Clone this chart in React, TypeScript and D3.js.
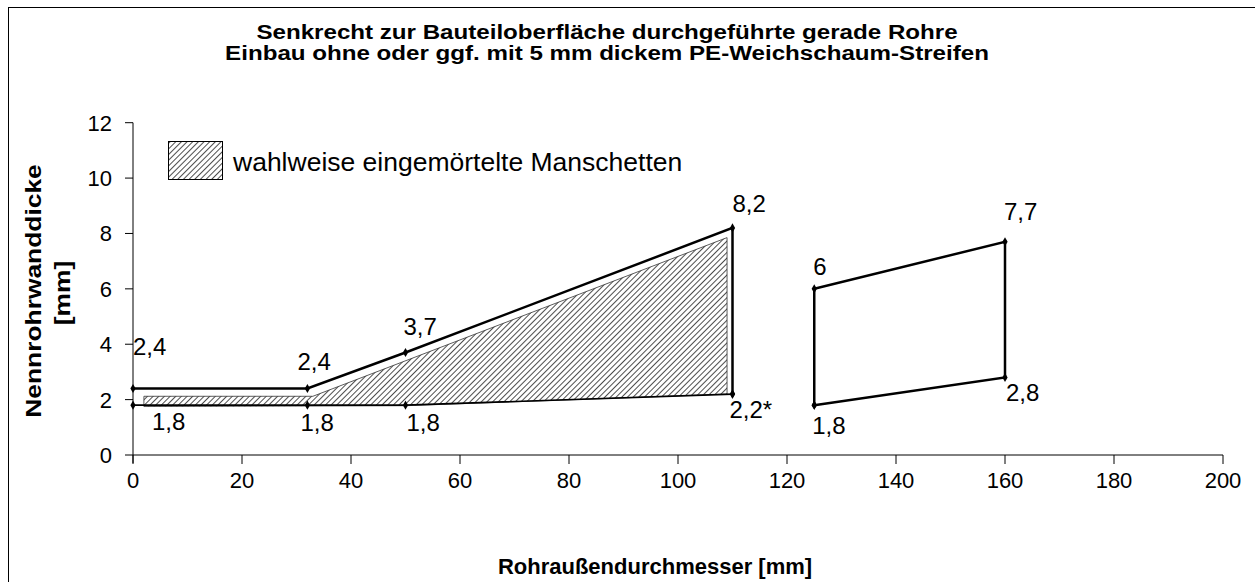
import React from 'react';
import * as d3 from 'd3';

// Werte
const upperLine = [
  { x: 0, y: 2.4 },
  { x: 32, y: 2.4 },
  { x: 50, y: 3.7 },
  { x: 110, y: 8.2 },
  { x: 110, y: 2.2 },
];
const lowerLine = [
  { x: 0, y: 1.8 },
  { x: 32, y: 1.8 },
  { x: 50, y: 1.8 },
  { x: 110, y: 2.2 },
];
const secondRange = [
  { x: 125, y: 1.8 },
  { x: 125, y: 6 },
  { x: 160, y: 7.7 },
  { x: 160, y: 2.8 },
  { x: 125, y: 1.8 },
];
// schraffierte Fläche (eingemörtelte Manschetten)
const hatchArea = [
  { x: 2, y: 2.12 },
  { x: 33, y: 2.12 },
  { x: 109, y: 7.85 },
  { x: 109, y: 2.2 },
  { x: 50, y: 1.78 },
  { x: 2, y: 1.75 },
];
const pointLabels = [
  { x: 0, y: 2.4, text: '2,4' },
  { x: 0, y: 1.8, text: '1,8' },
  { x: 32, y: 2.4, text: '2,4' },
  { x: 32, y: 1.8, text: '1,8' },
  { x: 50, y: 3.7, text: '3,7' },
  { x: 50, y: 1.8, text: '1,8' },
  { x: 110, y: 8.2, text: '8,2' },
  { x: 110, y: 2.2, text: '2,2*' },
  { x: 125, y: 6, text: '6' },
  { x: 125, y: 1.8, text: '1,8' },
  { x: 160, y: 7.7, text: '7,7' },
  { x: 160, y: 2.8, text: '2,8' },
];
// Versatz der Beschriftungen (Pixel)
const labelOffsets = [
  [0, -34], [19, 25], [-10, -19], [-7, 26], [-2, -18], [1, 26],
  [0, -16], [-3, 24], [-1, -14], [-2, 29], [-1, -22], [1, 24],
];
const xTicks = [0, 20, 40, 60, 80, 100, 120, 140, 160, 180, 200];
const yTicks = [0, 2, 4, 6, 8, 10, 12];
const titleLines = [
  'Senkrecht zur Bauteiloberfläche durchgeführte gerade Rohre',
  'Einbau ohne oder ggf. mit 5 mm dickem PE-Weichschaum-Streifen',
];
const legendText = 'wahlweise eingemörtelte Manschetten';

const W = 1255;
const H = 582;
const font = '"Liberation Sans", Arial, sans-serif';

export default function App() {
  const x = d3.scaleLinear().domain([0, 200]).range([133, 1223]);
  const y = d3.scaleLinear().domain([0, 12]).range([455, 122.7]);

  const line = d3.line<{ x: number; y: number }>()
    .x(d => x(d.x))
    .y(d => y(d.y));

  const allPoints = [...upperLine, ...lowerLine, ...secondRange];
  const diamond = d3.symbol().type(d3.symbolDiamond).size(24)();

  return (
    <svg width={W} height={H} style={{ position: 'absolute', left: 0, top: 0, background: '#fff' }}>
      <defs>
        <pattern id="hatch" width="4" height="4" patternUnits="userSpaceOnUse" patternTransform="rotate(45)">
          <rect width="4" height="4" fill="#fff" />
          <line x1="0" y1="0" x2="0" y2="4" stroke="#444" strokeWidth="1.9" />
        </pattern>
      </defs>
      <rect x={8.5} y={7.5} width={1260} height={600} fill="none" stroke="#000" strokeWidth={1} />

      {titleLines.map((t, i) => (
        <text key={i} transform={`translate(607,${39 + i * 21}) scale(1.15,1)`} textAnchor="middle"
          fontFamily={font} fontWeight="bold" fontSize={21}>{t}</text>
      ))}

      {/* Achsen */}
      <line x1={133} x2={133} y1={y(12)} y2={463} stroke="#000" strokeWidth={1} />
      <line x1={133} x2={x(200)} y1={y(0)} y2={y(0)} stroke="#000" strokeWidth={1} />
      {yTicks.map(t => (
        <g key={t}>
          <line x1={125} x2={133} y1={y(t)} y2={y(t)} stroke="#000" />
          <text x={112} y={y(t) + 8} textAnchor="end" fontFamily={font} fontSize={22}>{t}</text>
        </g>
      ))}
      {xTicks.map(t => (
        <g key={t}>
          <line x1={x(t)} x2={x(t)} y1={y(0)} y2={464} stroke="#000" />
          <text x={x(t)} y={488} textAnchor="middle" fontFamily={font} fontSize={22}>{t}</text>
        </g>
      ))}

      <text transform="translate(41,291) rotate(-90) scale(1.2,1)" textAnchor="middle"
        fontFamily={font} fontWeight="bold" fontSize={22}>Nennrohrwanddicke</text>
      <text transform="translate(70,293) rotate(-90) scale(1.2,1)" textAnchor="middle"
        fontFamily={font} fontWeight="bold" fontSize={22}>[mm]</text>
      <text x={655} y={574} textAnchor="middle"
        fontFamily={font} fontWeight="bold" fontSize={22}>Rohraußendurchmesser [mm]</text>

      {/* Legende */}
      <rect x={168.5} y={141.5} width={54} height={38} fill="url(#hatch)" stroke="#000" strokeWidth={1} />
      <text x={233} y={171} fontFamily={font} fontSize={26.5}>{legendText}</text>

      {/* Schraffur */}
      <path d={line(hatchArea) + 'Z'} fill="url(#hatch)" stroke="#333" strokeWidth={0.8} />

      <path d={line(upperLine) ?? ''} fill="none" stroke="#000" strokeWidth={2.5} />
      <path d={line(lowerLine) ?? ''} fill="none" stroke="#000" strokeWidth={1.6} />
      <path d={line(secondRange) ?? ''} fill="none" stroke="#000" strokeWidth={2.5} />

      {allPoints.map((p, i) => (
        <path key={i} d={diamond ?? ''} transform={`translate(${x(p.x)},${y(p.y)})`} fill="#000" />
      ))}

      {pointLabels.map((l, i) => (
        <text key={i} x={x(l.x) + labelOffsets[i][0]} y={y(l.y) + labelOffsets[i][1]}
          fontFamily={font} fontSize={24}>{l.text}</text>
      ))}
    </svg>
  );
}
